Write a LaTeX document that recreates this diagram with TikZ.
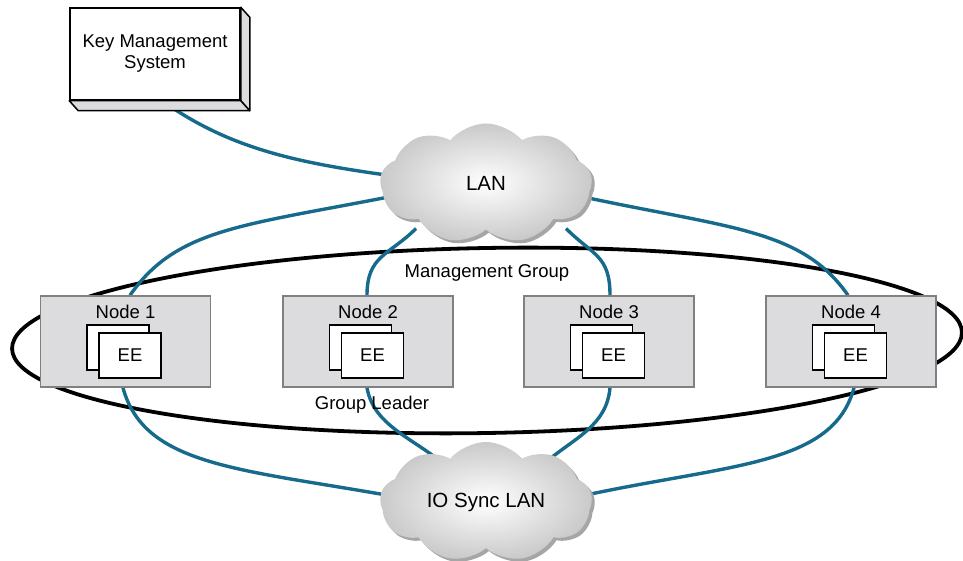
\documentclass[tikz,border=0pt]{standalone}
\usepackage{fontspec}
\setmainfont{Liberation Sans}
\usetikzlibrary{shapes.symbols,shadows,calc}
\definecolor{linkblue}{RGB}{22,106,140}
\definecolor{nodegray}{RGB}{220,220,222}
\definecolor{nodeborder}{RGB}{128,128,128}
\pgfdeclarelayer{bg}
\pgfsetlayers{bg,main}
\begin{document}
\begin{tikzpicture}[x=1pt,y=1pt,
  txt/.style={font=\fontsize{18.5}{21}\selectfont},
  linkline/.style={draw=linkblue, line width=3.4pt},
  grpring/.style={draw=black, line width=3.8pt},
  nodebox/.style={draw=nodeborder, line width=1.5pt, fill=nodegray, minimum width=170pt, minimum height=91pt, inner sep=0pt},
  eebox/.style={draw=black, line width=1.3pt, fill=white, minimum width=62pt, minimum height=45pt, inner sep=0pt, txt},
  netcloud/.style={cloud, cloud puffs=9, cloud puff arc=100, cloud ignores aspect, minimum width=212pt, minimum height=120pt, inner color=white, outer color=gray!42, shade, drop shadow={shadow xshift=3pt, shadow yshift=-3pt, fill=gray!70, opacity=1}, font=\fontsize{20.5}{24}\selectfont},
  kmsfront/.style={draw=black, line width=1.5pt, fill=white, minimum width=170pt, minimum height=92pt, align=center, inner sep=0pt, txt},
  kmsside/.style={draw=black, line width=1.5pt, fill=nodegray, line join=round}
]
\useasboundingbox (0,0) rectangle (963,561);

% Key management system (3D box)
\node[kmsfront] (kms) at (155,507) {Key Management\\System};
\draw[kmsside] (kms.north east) -- ($(kms.north east)+(9,-10)$) -- ($(kms.south east)+(9,-10)$) -- (kms.south east) -- cycle;
\draw[kmsside] (kms.south west) -- ($(kms.south west)+(9,-10)$) -- ($(kms.south east)+(9,-10)$) -- (kms.south east) -- cycle;

% Clouds
\node[netcloud] (lan) at (486,377.5) {LAN};
\node[netcloud] (io) at (486,59) {IO Sync LAN};

% Nodes
\node[nodebox] (n1) at (125.5,219.5) {};
\node[nodebox] (n2) at (368,219.5) {};
\node[nodebox] (n3) at (609,219.5) {};
\node[nodebox] (n4) at (851,219.5) {};
\foreach \c/\lbl in {1/Node 1,2/Node 2,3/Node 3,4/Node 4}{
  \node[eebox] (n\c b) at ($(n\c.center)+(-7.5,-6)$) {};
  \node[eebox] (n\c f) at ($(n\c.center)+(4.5,-14)$) {EE};
  \node[txt] (n\c l) at ($(n\c.center)+(0,29.5)$) {\lbl};
}

% Labels
\node[txt] (mg) at (487,288) {Management Group};
\node[txt] (gl) at (372,156) {Group Leader};

\begin{pgfonlayer}{bg}
\draw[grpring, rotate around={1:(487,220.5)}] (487,220.5) ellipse [x radius=475, y radius=92.5];
\draw[linkline] ([xshift=10pt,yshift=-2pt]kms.south) .. controls +(-35:80) and +(172:90) .. ($(lan.center)+(-100,8.5)$);
\draw[linkline] ($(n1.north)+(4.5,0)$) .. controls +(55:80) and +(191:150) .. ($(lan.center)+(-100,-14)$);
\draw[linkline] ($(n2.north)+(-1,0)$) .. controls +(90:40) and +(225:38) .. ($(lan.center)+(-70,-45)$);
\draw[linkline] ($(n3.north)+(1,0)$) .. controls +(90:40) and +(-45:38) .. ($(lan.center)+(80,-45)$);
\draw[linkline] ($(n4.north)+(-3,0)$) .. controls +(125:80) and +(-12:150) .. ($(lan.center)+(100,-14)$);
\draw[linkline] ($(n1.south)+(-2.5,0)$) .. controls +(-75:80) and +(170:150) .. ($(io.center)+(-100,7)$);
\draw[linkline] ($(n2.south)+(-1,0)$) .. controls +(-80:38) and +(140:38) .. ($(io.center)+(-45,40)$);
\draw[linkline] ($(n3.south)+(1,0)$) .. controls +(-95:38) and +(40:38) .. ($(io.center)+(60,40)$);
\draw[linkline] ($(n4.south)+(3,0)$) .. controls +(-105:80) and +(12:150) .. ($(io.center)+(100,7)$);
\end{pgfonlayer}
\end{tikzpicture}
\end{document}
